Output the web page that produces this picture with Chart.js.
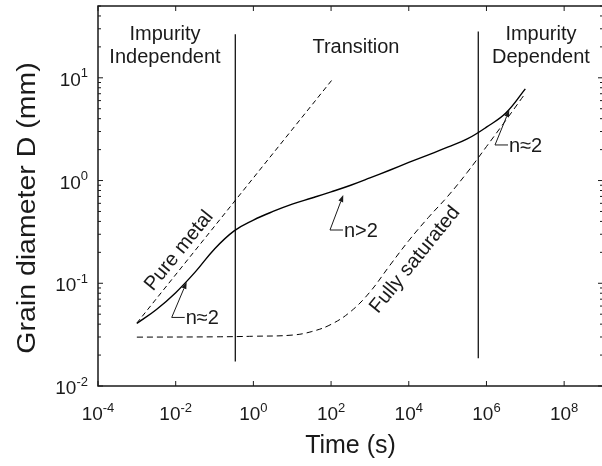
<!DOCTYPE html>
<html>
<head>
<meta charset="utf-8">
<script src="https://cdn.jsdelivr.net/npm/chart.js@4"></script>
<style>
  html, body { margin: 0; padding: 0; background: #fff; overflow: hidden; }
  #wrap { width: 606px; height: 466px; }
</style>
</head>
<body>
<div id="wrap"><canvas id="grainChart"></canvas></div>
<script>
// grain growth curve: time (s) vs grain diameter D (mm)
const grainTime = [1e-3, 3.2e-3, 1e-2, 3.2e-2, 0.1, 0.32, 1, 3.2, 10, 32, 100, 320, 1e3, 3.2e3, 1e4, 3.2e4, 1e5, 3.2e5, 1e6, 3.2e6, 1e7];
const grainSize = [0.0406, 0.0556, 0.081, 0.129, 0.216, 0.324, 0.412, 0.50, 0.589, 0.676, 0.776, 0.90, 1.06, 1.26, 1.50, 1.78, 2.11, 2.54, 3.31, 4.57, 7.8];

// "Pure metal" limit (straight line, n = 2)
const pureTime = [1e-3, 112];
const pureSize = [0.041, 9.8];

// "Fully saturated" limit
const satTime = [1e-3, 0.1, 1, 10, 32, 100, 320, 1e3, 3.2e3, 1e4, 3.2e4, 1e5, 3.2e5, 1e6, 3.2e6, 9e6];
const satSize = [0.0299, 0.0301, 0.0305, 0.0313, 0.0339, 0.0398, 0.0531, 0.0822, 0.148, 0.260, 0.437, 0.700, 1.20, 2.14, 3.89, 6.68];

// regime boundaries (vertical lines)
const boundaryTime = [0.342, 6.15e5];
const boundaryLow = [0.0173, 0.0186];
const boundaryHigh = [26.5, 28.2];

// axis ticks
const xTicks = [1e-4, 1e-2, 1, 1e2, 1e4, 1e6, 1e8];
const yTicks = [1e-2, 1e-1, 1, 10];

// labels
const regionLabels = [
  { t: 0.0053, lines: ['Impurity', 'Independent'] },
  { t: 437, lines: ['Transition'] },
  { t: 2.53e7, lines: ['Impurity', 'Dependent'] }
];
const slopeLabels = [
  { bend: [7.9e-3, 0.0465], tip: [0.0192, 0.103], text: 'n\u22482' },
  { bend: [93.8, 0.330], tip: [206, 0.724], text: 'n>2' },
  { bend: [1.66e6, 2.22], tip: [3.87e6, 4.86], text: 'n\u22482' }
];
const curveLabels = [
  { t: 0.0122, d: 0.207, text: 'Pure metal' },
  { t: 1.45e4, d: 0.169, text: 'Fully saturated' }
];

const FONT = '"Liberation Sans", Arial, Helvetica, sans-serif';
const INK = '#1a1a1a';

function toPoints(xs, ys) {
  return xs.map((x, i) => ({ x: x, y: ys[i] }));
}

const boundaryData = boundaryTime.map((t, i) => ({
  label: 'boundary' + i,
  data: [{ x: t, y: boundaryLow[i] }, { x: t, y: boundaryHigh[i] }],
  borderColor: '#000',
  borderWidth: 1.2,
  pointRadius: 0
}));

function line(ctx, x1, y1, x2, y2) {
  ctx.beginPath();
  ctx.moveTo(x1, y1);
  ctx.lineTo(x2, y2);
  ctx.stroke();
}

// "10" with a raised exponent
function powerLabel(ctx, exp, x, baseline, align) {
  ctx.font = '19px ' + FONT;
  const wBase = ctx.measureText('10').width;
  ctx.font = '13px ' + FONT;
  const wExp = ctx.measureText(exp).width;
  const total = wBase + wExp;
  const left = align === 'center' ? x - total / 2 : x - total;
  ctx.textAlign = 'left';
  ctx.textBaseline = 'alphabetic';
  ctx.font = '19px ' + FONT;
  ctx.fillText('10', left, baseline);
  ctx.font = '13px ' + FONT;
  ctx.fillText(exp, left + wBase, baseline - 8.5);
}

const decorations = {
  id: 'decorations',
  afterDatasetsDraw(chart) {
    const { ctx, chartArea: a, scales: { x, y } } = chart;
    ctx.save();
    ctx.strokeStyle = INK;
    ctx.fillStyle = INK;

    // axis box
    ctx.lineWidth = 1.5;
    ctx.strokeRect(a.left, a.top, a.right - a.left, a.bottom - a.top);

    // inward ticks
    ctx.lineWidth = 1;
    xTicks.forEach(v => {
      const px = x.getPixelForValue(v);
      line(ctx, px, a.bottom, px, a.bottom - 5);
      line(ctx, px, a.top, px, a.top + 5);
    });
    yTicks.forEach(v => {
      for (let m = 1; m <= 9; m++) {
        const val = v * m;
        if (val > y.max) break;
        const py = y.getPixelForValue(val);
        const len = m === 1 ? 5 : 3;
        line(ctx, a.left, py, a.left + len, py);
        line(ctx, a.right, py, a.right - len, py);
      }
    });

    // tick labels
    xTicks.forEach(v => {
      const exp = String(Math.round(Math.log10(v)));
      powerLabel(ctx, exp, x.getPixelForValue(v), a.bottom + 34, 'center');
    });
    yTicks.forEach(v => {
      const exp = String(Math.round(Math.log10(v)));
      powerLabel(ctx, exp, a.left - 10, y.getPixelForValue(v) + 8, 'right');
    });

    // axis titles
    ctx.font = '25px ' + FONT;
    ctx.textAlign = 'center';
    ctx.textBaseline = 'alphabetic';
    ctx.fillText('Time (s)', (a.left + a.right) / 2, a.bottom + 67);
    ctx.save();
    ctx.translate(a.left - 63, a.top + 202);
    ctx.rotate(-Math.PI / 2);
    ctx.scale(1.14, 1);
    ctx.fillText('Grain diameter D (mm)', 0, 0);
    ctx.restore();

    // regime labels
    ctx.font = '20px ' + FONT;
    regionLabels.forEach(r => {
      const px = x.getPixelForValue(r.t);
      if (r.lines.length === 1) {
        ctx.fillText(r.lines[0], px, a.top + 46.5);
      } else {
        ctx.fillText(r.lines[0], px, a.top + 34);
        ctx.fillText(r.lines[1], px, a.top + 57);
      }
    });

    // rotated curve labels
    curveLabels.forEach(c => {
      ctx.save();
      ctx.translate(x.getPixelForValue(c.t), y.getPixelForValue(c.d));
      ctx.rotate(-51 * Math.PI / 180);
      ctx.textBaseline = 'middle';
      ctx.fillText(c.text, 0, 0);
      ctx.restore();
    });

    // slope arrows
    ctx.lineWidth = 1;
    slopeLabels.forEach(s => {
      const bx = x.getPixelForValue(s.bend[0]);
      const by = y.getPixelForValue(s.bend[1]);
      const tx = x.getPixelForValue(s.tip[0]);
      const ty = y.getPixelForValue(s.tip[1]);
      line(ctx, bx + 13, by, bx, by);
      const ang = Math.atan2(ty - by, tx - bx);
      const hx = tx - 7 * Math.cos(ang);
      const hy = ty - 7 * Math.sin(ang);
      line(ctx, bx, by, hx, hy);
      ctx.beginPath();
      ctx.moveTo(tx, ty);
      ctx.lineTo(hx + 2.5 * Math.sin(ang), hy - 2.5 * Math.cos(ang));
      ctx.lineTo(hx - 2.5 * Math.sin(ang), hy + 2.5 * Math.cos(ang));
      ctx.closePath();
      ctx.fill();
      ctx.textAlign = 'left';
      ctx.textBaseline = 'alphabetic';
      ctx.fillText(s.text, bx + 14, by + 7);
    });

    ctx.restore();
  }
};

const ctx = document.getElementById('grainChart').getContext('2d');
new Chart(ctx, {
  type: 'line',
  data: {
    datasets: [
      {
        label: 'grain',
        data: toPoints(grainTime, grainSize),
        borderColor: '#000',
        borderWidth: 1.4,
        pointRadius: 0,
        tension: 0.4
      },
      {
        label: 'pure metal',
        data: toPoints(pureTime, pureSize),
        borderColor: '#000',
        borderWidth: 1,
        borderDash: [5, 3.5],
        pointRadius: 0
      },
      {
        label: 'fully saturated',
        data: toPoints(satTime, satSize),
        borderColor: '#000',
        borderWidth: 1,
        borderDash: [6, 4],
        pointRadius: 0,
        tension: 0.4
      },
      ...boundaryData
    ]
  },
  options: {
    responsive: true,
    maintainAspectRatio: false,
    animation: false,
    layout: { padding: { left: 98, top: 6, right: 3, bottom: 80 } },
    plugins: {
      legend: { display: false },
      tooltip: { enabled: false }
    },
    scales: {
      x: {
        type: 'logarithmic',
        min: 1e-4,
        max: 1e9,
        grid: { display: false },
        border: { display: false },
        ticks: { display: false },
        afterFit: s => { s.height = 0; }
      },
      y: {
        type: 'logarithmic',
        min: 0.01,
        max: 50,
        grid: { display: false },
        border: { display: false },
        ticks: { display: false },
        afterFit: s => { s.width = 0; }
      }
    }
  },
  plugins: [decorations]
});
</script>
</body>
</html>
